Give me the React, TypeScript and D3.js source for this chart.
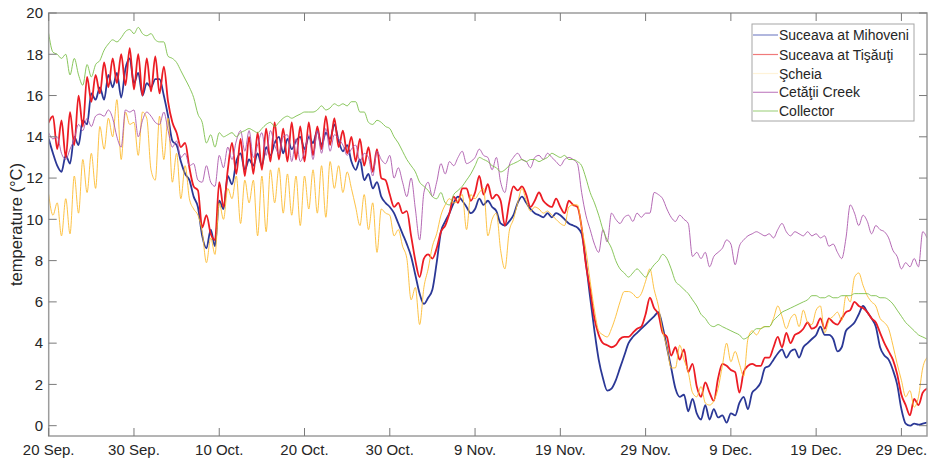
import React from "react";
import * as d3 from "d3";

// Water temperature, sampled every half day from 20 Sep. onwards (°C)
const STEP_DAYS = 0.5;

const mihoveni = [
  13.9, 13.2, 12.6, 12.3, 13.1, 12.7, 14.0, 13.6, 14.8, 14.6,
  16.1, 15.8, 16.4, 15.8, 17.0, 16.4, 17.1, 15.9, 17.3, 17.8,
  16.6, 17.1, 16.0, 16.6, 16.4, 16.8, 16.8, 16.0, 15.0, 13.8,
  13.6, 12.8, 12.2, 11.9, 11.1, 10.6, 9.2, 8.6, 9.5, 8.7,
  10.9, 10.5, 12.1, 11.7, 12.8, 13.2, 12.4, 12.9, 12.6, 13.2,
  12.6, 13.5, 13.1, 13.7, 14.0, 13.2, 13.9, 13.4, 13.8, 14.0,
  13.4, 14.0, 13.7, 14.3, 13.6, 14.2, 13.9, 14.6, 13.8, 13.3,
  13.6, 12.8, 12.4, 12.9, 11.9, 12.2, 11.5, 11.8, 11.1, 10.8,
  10.6, 10.3, 9.8, 9.3, 8.8, 8.2, 7.3, 6.4, 5.9, 6.2,
  6.6, 7.9, 9.4, 9.9, 10.3, 10.8, 11.1, 10.9, 10.6, 10.3,
  10.5, 11.0, 10.7, 10.9, 10.6, 10.4, 9.8, 9.7, 9.9, 10.2,
  10.8, 11.1, 10.8, 10.5, 10.3, 10.2, 10.1, 10.3, 10.1, 10.3,
  10.2, 10.0, 9.8, 9.7, 9.6, 9.3, 7.9, 6.2, 4.6, 3.2,
  2.3, 1.7, 1.8, 2.2, 2.8, 3.4, 4.0, 4.3, 4.5, 4.7,
  4.9, 5.1, 5.3, 5.5, 4.8, 3.8, 2.8, 1.8, 1.4, 1.5,
  0.7, 1.3, 0.6, 0.3, 1.0, 0.3, 0.8, 0.4, 0.5, 0.15,
  0.6, 0.5, 1.1, 1.4, 0.8, 1.6, 1.8, 2.1, 2.8, 2.9,
  3.2, 3.5, 3.7, 3.3, 3.6, 3.7, 3.3, 3.8, 4.0, 4.2,
  4.4, 4.8, 4.4, 4.4, 4.2, 3.6, 3.8, 4.6, 4.8, 5.0,
  5.4, 5.8, 5.5, 5.2, 4.8, 3.8, 3.4, 3.2, 2.7, 2.0,
  0.8, 0.1, 0.0, 0.1, 0.05, 0.1, 0.15,
];

const tisauti = [
  14.7, 15.0, 13.4, 14.8, 13.0, 15.2, 13.6, 16.0, 14.5, 16.9,
  15.7, 17.0, 16.1, 17.6, 16.4, 17.8, 16.6, 18.0, 16.5, 18.3,
  16.3, 18.0, 16.0, 17.8, 16.2, 17.9, 16.1, 17.4, 15.7, 14.7,
  14.2, 13.5, 13.7, 12.5, 11.6, 11.4, 9.6, 10.2, 9.3, 9.0,
  11.8, 10.6, 12.4, 13.7, 12.2, 13.9, 12.1, 14.0, 12.2, 14.2,
  12.4, 14.4, 12.8, 14.7, 12.9, 14.4, 12.8, 14.7, 12.9, 14.5,
  12.8, 14.7, 13.1, 14.5, 13.4, 15.0, 13.6, 14.9, 13.5, 14.3,
  13.2, 14.0, 12.8, 13.9, 12.6, 13.5, 12.3, 13.4, 12.0, 11.9,
  11.2, 10.6, 10.8, 10.3, 10.4, 9.2, 8.0, 7.2, 8.1, 8.3,
  8.1, 8.6, 9.4, 9.7, 10.3, 11.1, 10.8, 11.5, 11.5, 10.9,
  11.3, 12.1, 11.2, 11.7, 11.0, 11.2, 10.9, 9.7, 10.8, 11.6,
  11.4, 11.6, 11.2, 10.6, 10.9, 11.3, 10.9, 10.7, 10.6, 11.0,
  10.6, 10.3, 10.9, 10.7, 10.6, 9.6, 7.8, 6.6, 5.2, 4.4,
  4.0, 3.9, 3.8, 3.9, 4.2, 4.3, 4.3, 4.5, 4.7, 4.8,
  5.4, 6.2, 5.7, 5.4, 4.5, 4.3, 3.4, 3.8, 3.2, 3.7,
  2.6, 3.0, 1.9, 1.4, 2.1, 1.6, 1.2, 2.3, 3.0, 2.9,
  2.7, 2.6, 1.6, 2.6, 2.9, 3.0, 2.9, 2.9, 3.3, 3.3,
  3.8, 4.3, 3.8, 4.5, 4.0, 4.4, 4.5, 4.7, 5.0, 4.7,
  4.8, 5.2, 4.7, 5.2, 5.0, 4.9, 5.2, 5.5, 5.6, 6.0,
  5.8, 5.7, 5.5, 5.2, 5.0, 4.5, 4.0, 3.6, 3.2, 2.5,
  1.5, 1.0, 0.5, 1.3, 1.0, 1.6, 1.8,
];

const scheia = [
  11.2, 10.2, 10.8, 9.2, 11.0, 9.3, 12.1, 10.3, 12.9, 11.3,
  13.2, 11.5, 14.5, 13.4, 14.9, 14.0, 15.8, 12.9, 15.2, 14.6,
  14.7, 13.1, 15.2, 14.9, 12.4, 11.9, 15.0, 12.9, 14.9, 11.8,
  13.2, 11.0, 12.6, 11.0, 10.5, 10.2, 9.4, 7.9, 9.1, 8.3,
  10.8, 10.0, 11.5, 11.0, 12.1, 9.8, 11.9, 10.8, 11.9, 9.2,
  12.1, 9.4, 12.4, 10.8, 12.5, 10.3, 12.2, 10.2, 12.1, 9.7,
  12.1, 10.5, 12.4, 10.3, 12.6, 10.1, 12.8, 11.5, 12.6, 11.3,
  12.3, 11.5, 10.6, 9.7, 11.2, 9.5, 10.8, 8.4, 10.5, 10.3,
  10.2, 9.2, 9.5, 8.7, 8.1, 6.1, 6.7, 4.9, 6.7, 7.6,
  8.7, 9.3, 10.2, 10.7, 11.0, 10.8, 10.9, 11.2, 9.5, 11.2,
  11.0, 11.3, 11.5, 9.2, 10.0, 10.3, 8.5, 7.6, 9.4, 10.0,
  10.8, 11.5, 10.9, 10.4, 10.6, 10.5, 10.3, 10.4, 10.2, 10.0,
  9.8, 9.7, 10.6, 10.7, 10.7, 9.6, 8.5, 7.0, 5.6, 4.6,
  4.4, 4.3, 4.7, 5.3, 6.0, 6.5, 6.5, 6.4, 6.2, 6.4,
  7.0, 7.6, 6.6, 5.8, 4.6, 3.8, 2.8, 2.8, 3.9, 3.2,
  2.6, 1.6, 1.4, 1.9, 1.1, 1.0, 1.2, 1.8, 2.9, 4.0,
  3.1, 3.6, 3.0, 2.4, 4.2, 4.6, 4.4, 4.7, 4.8, 4.8,
  5.2, 5.8, 5.3, 4.7, 5.2, 5.4, 4.8, 5.6, 5.0, 4.9,
  5.6, 5.8, 4.5, 5.1, 5.3, 5.5, 5.1, 6.3, 6.0, 7.2,
  7.4, 6.8, 6.3, 6.0, 5.8, 5.2, 5.0, 4.7, 3.9, 3.0,
  2.2, 1.4, 1.7, 0.9, 1.4, 2.8, 3.3,
];

const cetatii = [
  14.2, 13.9, 14.0, 13.2, 12.9, 13.4, 13.9, 14.6, 14.3, 14.9,
  14.5, 15.0, 15.1, 15.0, 15.3, 14.9, 14.0, 13.5, 15.3, 15.2,
  15.3, 14.0, 14.8, 15.2, 15.0, 14.7, 14.6, 15.2, 14.3, 13.5,
  13.8, 13.0, 13.2, 12.6, 12.7, 11.9, 11.8, 12.6, 11.8, 11.6,
  13.1, 12.5, 13.5, 12.9, 13.8, 14.3, 13.3, 14.3, 13.0, 13.6,
  14.2, 13.1, 14.3, 13.6, 13.2, 14.0, 14.1, 12.8, 13.9, 12.8,
  13.3, 14.1, 12.9, 14.3, 13.2, 14.4, 13.3, 14.1, 13.9, 13.6,
  13.1, 13.4, 13.6, 12.8, 13.2, 13.0, 12.1, 13.3, 12.9, 12.7,
  13.1, 12.0, 12.5, 11.8, 11.1, 12.0, 10.5, 9.0, 11.3, 11.8,
  11.1, 11.8, 12.7, 12.2, 12.8, 12.6, 13.0, 13.3, 12.7, 12.8,
  13.0, 13.4, 13.1, 13.0, 12.4, 13.0, 11.8, 11.3, 12.6, 13.0,
  13.2, 12.9, 12.8, 12.5, 13.0, 13.1, 12.9, 13.2, 13.0, 12.8,
  12.6, 12.9, 13.0, 12.9, 12.7, 11.3, 10.2, 9.5, 8.8, 8.4,
  9.5, 8.9, 10.3, 10.0, 9.8, 10.1, 10.2, 9.9, 10.3, 10.1,
  10.3, 10.3, 11.3, 11.2, 11.0, 10.5, 10.1, 9.9, 10.2, 10.0,
  9.8, 8.2, 8.4, 8.1, 8.4, 7.7, 8.2, 8.4, 8.6, 9.0,
  8.8, 7.8, 8.7, 9.0, 9.2, 9.3, 9.4, 9.3, 9.2, 9.3,
  9.1, 9.5, 9.8, 9.4, 9.2, 9.4, 9.3, 9.2, 9.4, 9.2,
  9.3, 9.1, 9.2, 8.7, 8.8, 8.4, 8.1, 9.1, 10.7, 10.3,
  9.7, 10.2, 9.9, 9.3, 9.7, 9.5, 9.4, 9.1, 8.5, 8.2,
  7.6, 7.9, 7.7, 8.1, 7.7, 9.4, 9.1,
];

const collector = [
  19.0, 18.1, 18.0, 17.8, 18.0, 17.0, 17.8, 17.0, 16.5, 17.5,
  16.9, 17.5, 17.7, 18.2, 18.5, 18.7, 18.6, 18.8, 19.1, 19.2,
  19.0, 19.3, 19.0, 18.9, 19.0, 18.7, 18.6, 18.6, 17.9, 17.8,
  17.6, 17.2, 16.8, 16.4, 15.9, 15.1, 14.7, 13.7, 14.1, 13.5,
  14.2, 14.0, 14.1, 14.2, 14.0, 14.2, 14.3, 14.4, 14.3, 14.2,
  14.4, 14.6, 14.7, 14.5, 14.7, 14.9, 15.0, 14.9, 15.0, 15.1,
  15.2, 15.2, 15.2, 15.3, 15.5, 15.3, 15.4, 15.6, 15.5, 15.6,
  15.5, 15.7, 15.7, 15.2, 15.2, 14.7, 14.6, 14.8, 14.7, 14.5,
  14.4, 14.0, 13.7, 13.3, 12.9, 12.6, 12.3, 11.8, 11.6, 11.4,
  11.1, 11.0, 11.3, 10.8, 10.7, 11.2, 11.4, 11.6, 11.9, 12.2,
  12.6, 13.0, 12.9, 12.8, 12.6, 12.5, 12.3, 12.4, 12.6, 12.7,
  12.8, 12.9, 12.8, 12.9, 12.9, 12.8, 12.9, 13.0, 13.2, 13.1,
  13.0, 13.1, 12.9, 12.9, 12.8, 12.6, 12.0, 11.3, 10.8, 10.2,
  9.5, 9.0, 8.6, 8.0, 7.6, 7.4, 7.2, 7.4, 7.6, 7.4,
  7.2, 7.5, 7.8, 8.0, 8.3, 8.1, 7.6, 7.0, 6.8, 6.6,
  6.4, 6.1, 5.8, 5.4, 5.2, 4.9, 4.8, 4.9, 4.8, 4.7,
  4.6, 4.5, 4.4, 4.2, 4.3, 4.5, 4.7, 4.7, 4.8, 4.8,
  5.1, 5.3, 5.5, 5.6, 5.7, 5.8, 5.9, 6.0, 6.1, 6.3,
  6.3, 6.2, 6.2, 6.3, 6.2, 6.2, 6.3, 6.3, 6.3, 6.4,
  6.4, 6.4, 6.4, 6.3, 6.3, 6.2, 6.2, 6.1, 5.9, 5.6,
  5.3, 5.0, 4.8, 4.6, 4.4, 4.3, 4.2,
];

const seriesNames = [
  "Suceava at Mihoveni",
  "Suceava at Tişăuţi",
  "Şcheia",
  "Cetăţii Creek",
  "Collector",
];
const seriesData = [mihoveni, tisauti, scheia, cetatii, collector];
const seriesColors = ["#2b3896", "#ec1c24", "#fdbb30", "#ab58ab", "#7cbf4a"];
const seriesWidths = [1.8, 1.8, 0.9, 0.9, 0.9];
const legendColors = ["#7d86c8", "#f07a7a", "#fff3d8", "#c587c5", "#a8d68a"];

// x ticks: every 10 days from 20 Sep.
const xTickDays = [0, 10, 20, 30, 40, 50, 60, 70, 80, 90, 100];
const xTickLabels = [
  "20 Sep.", "30 Sep.", "10 Oct.", "20 Oct.", "30 Oct.", "9 Nov.",
  "19 Nov.", "29 Nov.", "9 Dec.", "19 Dec.", "29 Dec.",
];
const yTicks = [0, 2, 4, 6, 8, 10, 12, 14, 16, 18, 20];

const W = 931;
const H = 460;
const M = { left: 48.7, right: 927, top: 13, bottom: 436 };
const FONT = "'Liberation Sans', Arial, sans-serif";

export default function App() {
  const x = d3.scaleLinear().domain([0, 103]).range([M.left, M.right]);
  const y = d3.scaleLinear().domain([-0.5, 20]).range([M.bottom, M.top]);

  const line = d3
    .line<number>()
    .x((_, i) => x(i * STEP_DAYS))
    .y((v) => y(v))
    .curve(d3.curveMonotoneX);

  const tickLen = 8;
  const axisColor = "#9c9c9c";
  const tickColor = "#7a7a7a";
  const textColor = "#262626";

  const legend = { x: 752, y: 24, w: 162, h: 97 };
  const rowY = [35, 54.5, 73.5, 92.3, 111];

  return (
    <svg
      width={W}
      height={H}
      style={{ position: "fixed", left: 0, top: 0, background: "#fff" }}
      fontFamily={FONT}
    >
      <defs>
        <clipPath id="plot-area">
          <rect x={M.left} y={M.top} width={M.right - M.left} height={M.bottom - M.top} />
        </clipPath>
      </defs>

      {/* series */}
      <g clipPath="url(#plot-area)" fill="none" strokeLinejoin="round" strokeLinecap="round">
        {seriesData.map((data, k) => (
          <path
            key={seriesNames[k]}
            d={line(data) ?? ""}
            stroke={seriesColors[k]}
            strokeWidth={seriesWidths[k]}
          />
        ))}
      </g>

      {/* axis box */}
      <rect
        x={M.left}
        y={M.top}
        width={M.right - M.left}
        height={M.bottom - M.top}
        fill="none"
        stroke={axisColor}
        strokeWidth={1.5}
      />

      {/* x ticks and labels */}
      {xTickDays.map((d, i) => (
        <g key={"x" + d}>
          <line x1={x(d)} x2={x(d)} y1={M.bottom} y2={M.bottom - tickLen} stroke={tickColor} strokeWidth={1} />
          <line x1={x(d)} x2={x(d)} y1={M.top} y2={M.top + tickLen} stroke={tickColor} strokeWidth={1} />
          <text x={x(d)} y={455} textAnchor="middle" fontSize={15} fill={textColor}>
            {xTickLabels[i]}
          </text>
        </g>
      ))}

      {/* y ticks and labels */}
      {yTicks.map((v) => (
        <g key={"y" + v}>
          <line x1={M.left} x2={M.left + tickLen} y1={y(v)} y2={y(v)} stroke={tickColor} strokeWidth={1} />
          <line x1={M.right} x2={M.right - tickLen} y1={y(v)} y2={y(v)} stroke={tickColor} strokeWidth={1} />
          <text x={43} y={y(v)} dy="0.35em" textAnchor="end" fontSize={15} fill={textColor}>
            {v}
          </text>
        </g>
      ))}

      <text
        transform={`translate(22,${(M.top + M.bottom) / 2}) rotate(-90)`}
        textAnchor="middle"
        fontSize={16.5}
        fill={textColor}
      >
        temperature (°C)
      </text>

      {/* legend */}
      <rect x={legend.x} y={legend.y} width={legend.w} height={legend.h} fill="#fff" stroke="#a6a6a6" strokeWidth={1} />
      {seriesNames.map((name, k) => (
        <g key={"lg" + k}>
          <line x1={753} x2={778} y1={rowY[k]} y2={rowY[k]} stroke={legendColors[k]} strokeWidth={1.2} />
          <text x={779} y={rowY[k]} dy="0.36em" fontSize={14} fill={textColor}>
            {name}
          </text>
        </g>
      ))}
    </svg>
  );
}
